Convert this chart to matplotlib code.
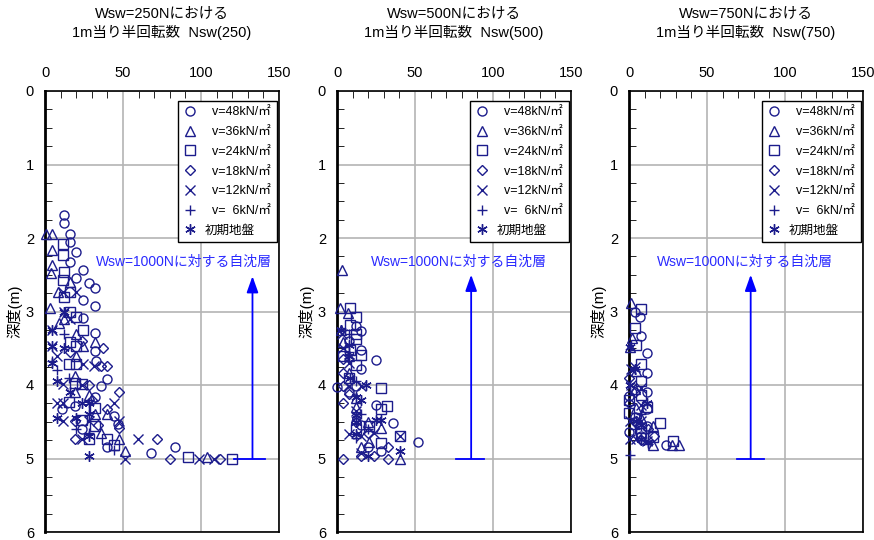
import matplotlib
matplotlib.use("Agg")
import matplotlib.pyplot as plt
from matplotlib.ticker import MultipleLocator

plt.rcParams['font.family'] = ['Liberation Sans', 'Noto Sans CJK JP', 'DejaVu Sans']

# labels
series_labels = ['  v=48kN/㎡', '  v=36kN/㎡', '  v=24kN/㎡', '  v=18kN/㎡',
                 '  v=12kN/㎡', '  v=  6kN/㎡', '初期地盤']
markers = ['o', '^', 's', 'D', 'x', '+', (6, 2, 0)]
msizes = [6.5, 7, 6.5, 5, 7, 7.5, 7.5]
titles = [('Wsw=250Nにおける', '1m当り半回転数  Nsw(250)'),
          ('Wsw=500Nにおける', '1m当り半回転数  Nsw(500)'),
          ('Wsw=750Nにおける', '1m当り半回転数  Nsw(750)')]
note = 'Wsw=1000Nに対する自沈層'

# Nsw, depth pairs per series (v48, v36, v24, v18, v12, v6, initial)
p1 = [
    [(12, 1.69), (12, 1.79), (16, 1.94), (16, 2.05), (20, 2.19), (16, 2.32), (24.5, 2.44), (20, 2.54),
     (28, 2.61), (32, 2.68), (24.5, 2.84), (32, 2.93), (24.5, 3.09), (32, 3.29), (32, 3.54), (33, 3.67),
     (36, 4.01), (40, 3.92), (11, 4.33), (19, 4.29), (32, 4.17), (44, 4.42), (24, 4.6), (40, 4.84),
     (68, 4.93), (83.5, 4.84), (47, 4.53)],
    [(0.6, 1.94), (4.3, 1.94), (4.7, 2.16), (4.7, 2.37), (3.6, 2.48), (8.5, 2.73), (3.2, 2.95), (9, 3.16),
     (12, 3.1), (32, 3.41), (24.5, 3.47), (20, 3.61), (19.4, 3.88), (19.4, 4.1), (28, 4.13), (32, 4.4),
     (40, 4.4), (36, 4.65), (47.6, 4.74), (51.5, 4.9), (103.6, 4.98), (16, 2.6), (20, 3.3)],
    [(11.7, 2.08), (11.7, 2.23), (12, 2.46), (11.7, 2.57), (16, 2.73), (20, 3.07), (24.5, 3.25), (16, 3.41),
     (20, 3.47), (15.6, 3.72), (20, 3.72), (19.4, 3.97), (24, 3.99), (15.6, 4.23), (32, 4.31), (24, 4.47),
     (32, 4.56), (28, 4.74), (40, 4.74), (44, 4.81), (91.5, 4.98), (120, 5.0), (16, 3.0), (12, 2.8)],
    [(37, 3.5), (40, 3.74), (36, 3.74), (16, 3.55), (47.6, 4.09), (40, 4.33), (19.4, 4.49), (47.6, 4.58),
     (19.4, 4.74), (72, 4.74), (80, 5.0), (112, 5.0), (28, 4.0), (24, 3.4), (30, 4.2), (34, 4.55)],
    [(20, 2.73), (11.7, 2.73), (12, 3.0), (4.3, 3.25), (4.3, 3.47), (24.5, 3.72), (31.6, 3.74), (11.3, 3.99),
     (24, 4.0), (7.5, 4.24), (11.3, 4.24), (44, 4.24), (11.3, 4.49), (28, 4.49), (47.6, 4.49), (24, 4.74),
     (59.4, 4.74), (51.5, 5.0), (99, 5.0), (108.5, 5.0), (16, 3.1), (8, 3.6)],
    [(4.3, 3.68), (15.6, 3.91), (44, 4.88), (12, 3.3), (20, 4.6), (28, 4.65), (8, 3.8)],
    [(4.3, 3.25), (4.3, 3.47), (4.3, 3.7), (12, 3.0), (7.5, 3.95), (28, 4.24), (7.5, 4.45), (28, 4.7),
     (28, 4.97), (12, 3.5), (16, 4.1), (20, 4.45), (24, 4.25), (28, 4.4)],
]
p2 = [
    [(15.6, 3.27), (8, 3.4), (15.6, 3.52), (24.8, 3.66), (15.6, 3.78), (0, 4.03), (12, 4.02), (8, 4.09),
     (24.8, 4.27), (35.9, 4.52), (15.6, 4.55), (28.4, 4.9), (52, 4.78), (20, 4.85), (12, 3.2)],
    [(3, 2.44), (1.7, 2.95), (7, 3.02), (2.8, 3.25), (3.8, 3.41), (8, 3.84), (12, 4.18), (12, 4.45),
     (19.9, 4.5), (28.4, 4.59), (15.6, 4.84), (20.5, 4.77), (40.2, 5.0), (8, 3.6), (12, 4.3)],
    [(8.1, 2.95), (12, 3.08), (8.1, 3.18), (12, 3.3), (12, 3.37), (8.1, 3.52), (15.6, 3.59), (12, 3.73),
     (3.8, 3.6), (28.4, 4.04), (28.4, 4.32), (32, 4.29), (20.5, 4.56), (28.4, 4.79), (40.2, 4.7),
     (8, 3.9), (12, 4.6)],
    [(3.8, 3.84), (3.8, 4.02), (3.8, 4.25), (8, 4.12), (3.8, 3.65), (12, 4.5), (32.7, 4.84), (3.8, 5.0),
     (32.7, 5.0), (20, 4.65), (24, 4.97), (15.6, 4.97)],
    [(3.8, 3.5), (8, 4.02), (15.6, 4.02), (8, 4.66), (15.6, 4.7), (15.6, 4.93), (40.2, 4.7), (3, 3.3),
     (8, 3.7), (12, 4.35), (24, 4.65)],
    [(8, 3.3), (12, 3.95), (15.6, 4.4), (12, 4.72), (20, 4.6), (8, 3.55)],
    [(2.8, 3.25), (8, 3.45), (8, 3.6), (8.1, 3.91), (18.8, 4.0), (12, 4.16), (15.6, 4.2), (12, 4.41),
     (25, 4.47), (12, 4.66), (20, 4.97), (40.2, 4.9), (12, 4.5), (28, 4.47)],
]
p3 = [
    [(7.3, 3.08), (7.9, 3.33), (11.5, 3.57), (11.5, 3.83), (11.5, 4.09), (0, 4.15), (11.5, 4.33),
     (3.6, 4.43), (11.5, 4.56), (0, 4.64), (24, 4.81), (4, 3.0), (8, 4.7)],
    [(1.5, 2.89), (2.1, 3.36), (0.4, 3.48), (4.7, 3.81), (3.6, 4.06), (4.3, 4.31), (15.4, 4.56),
     (15.4, 4.81), (27.8, 4.82), (32, 4.82), (8, 4.45)],
    [(7.9, 2.97), (3.6, 3.22), (4.7, 3.45), (7.9, 3.72), (7.9, 3.95), (7.9, 4.14), (0, 4.21), (0, 4.38),
     (7.9, 4.58), (19.7, 4.52), (7.9, 4.65), (15.4, 4.71), (28.2, 4.76), (11.5, 4.3)],
    [(0, 4.25), (4, 4.1), (4, 4.5), (8, 4.75), (12, 4.6), (0, 3.9), (16, 4.7)],
    [(1.5, 3.78), (1.5, 4.0), (7.9, 4.04), (7.9, 4.27), (0.4, 4.49), (7.9, 4.49), (0.4, 4.73), (4.7, 4.74),
     (11.5, 4.76), (4, 3.75)],
    [(0.4, 4.95), (4, 4.6), (8, 4.4), (12, 4.8)],
    [(0.4, 3.48), (0.4, 4.0), (11.5, 4.25), (4.7, 4.49), (7.9, 4.74), (12.3, 4.78), (4, 3.78), (8, 4.55)],
]
panels = [p1, p2, p3]

# self-settling layer marker: arrow x, arrow top depth, base span, text x / depth
arrow_x = [133, 86, 78]
arrow_top = [2.52, 2.50, 2.50]
base_span = [(121, 141), (76, 94), (69, 86.5)]
note_pos = [(89, 2.33), (78, 2.33), (74.5, 2.33)]
base_depth = 5.0

navy = '#1c1c8c'
fig = plt.figure(figsize=(8.74, 5.4), dpi=100)
lefts = [45, 337, 629]

for i, data in enumerate(panels):
    ax = fig.add_axes([lefts[i] / 874, 8 / 540, 234 / 874, 441 / 540])
    for s, pts in enumerate(data):
        xs = [p[0] for p in pts]
        ys = [p[1] for p in pts]
        ax.plot(xs, ys, linestyle='none', marker=markers[s], markersize=msizes[s],
                markerfacecolor='none', markeredgecolor=navy, markeredgewidth=1.0,
                label=series_labels[s], clip_on=False, zorder=3)

    # arrow for the self-settling layer
    ax.plot(base_span[i], [base_depth, base_depth], color='blue', lw=1.3, zorder=2)
    ax.annotate('', xy=(arrow_x[i], arrow_top[i]), xytext=(arrow_x[i], base_depth),
                arrowprops=dict(arrowstyle='-|>,head_length=0.7,head_width=0.25', color='blue',
                                lw=1.3, mutation_scale=14, shrinkA=0, shrinkB=0))
    ax.text(note_pos[i][0], note_pos[i][1], note, color='#2a2aff', fontsize=10,
            ha='center', va='center')

    ax.set_xlim(0, 150)
    ax.set_ylim(6, 0)
    ax.xaxis.tick_top()
    ax.xaxis.set_major_locator(MultipleLocator(50))
    ax.xaxis.set_minor_locator(MultipleLocator(10))
    ax.yaxis.set_major_locator(MultipleLocator(1))
    ax.yaxis.set_minor_locator(MultipleLocator(0.25))
    ax.tick_params(axis='x', which='both', direction='in', top=True, bottom=False, labelsize=10.5, pad=8)
    ax.tick_params(axis='x', which='major', length=0)
    ax.tick_params(axis='x', which='minor', length=5)
    ax.tick_params(axis='y', which='both', direction='in', left=True, right=False, labelsize=10.5, pad=8)
    ax.tick_params(axis='y', which='major', length=0)
    ax.tick_params(axis='y', which='minor', length=5)
    ax.grid(True, which='major', color='#b4b4b4', lw=1.2)
    ax.set_axisbelow(True)
    for sp in ax.spines.values():
        sp.set_linewidth(1.2)
    ax.spines['left'].set_linewidth(2)
    ax.set_ylabel('深度(m)', fontsize=11, labelpad=2)

    ax.text(0.5, 1.175, titles[i][0], transform=ax.transAxes, ha='center', va='center', fontsize=10.5)
    ax.text(0.5, 1.132, titles[i][1], transform=ax.transAxes, ha='center', va='center', fontsize=10.5)

    leg = ax.legend(loc='upper right', fontsize=9, frameon=True, fancybox=False, edgecolor='black',
                    framealpha=1, handlelength=1, handletextpad=0.7, labelspacing=0.62,
                    borderpad=0.45, borderaxespad=0, bbox_to_anchor=(0.99, 0.978))
    leg.get_frame().set_linewidth(1)

fig.savefig('out.png', dpi=100)
